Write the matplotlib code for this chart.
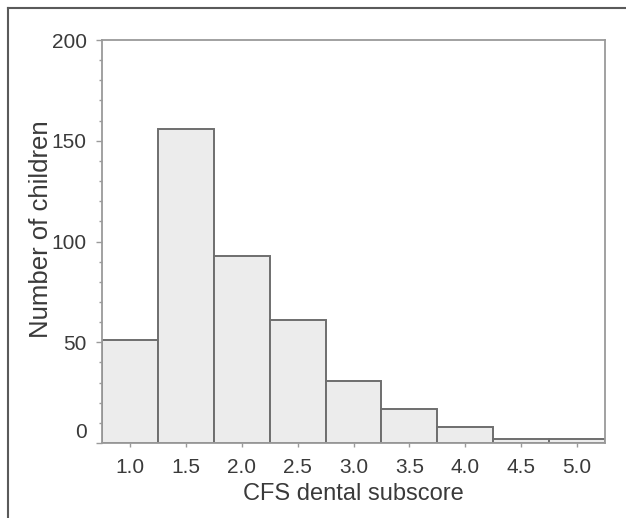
import matplotlib
matplotlib.use('Agg')
import matplotlib.pyplot as plt
import matplotlib.transforms as mtransforms
from matplotlib.lines import Line2D
from matplotlib.ticker import MultipleLocator

plt.rcParams['font.family'] = ['Liberation Sans', 'DejaVu Sans']

# CFS dental subscore histogram
scores = [1.0, 1.5, 2.0, 2.5, 3.0, 3.5, 4.0, 4.5, 5.0]
counts = [51, 156, 93, 61, 31, 17, 8, 2, 2]
tick_labels = ['1.0', '1.5', '2.0', '2.5', '3.0', '3.5', '4.0', '4.5', '5.0']
y_ticks = [0, 50, 100, 150, 200]

text_color = '#3a3a3a'
spine_color = '#9a9a9a'

fig = plt.figure(figsize=(6.26, 5.18), dpi=100)
ax = fig.add_axes([102 / 626, 1 - 443 / 518, 503 / 626, 403 / 518])

ax.bar(scores, counts, width=0.5, color='#ececec', edgecolor='#6e6e6e',
       linewidth=1.4)

ax.set_xlim(0.75, 5.25)
ax.set_ylim(0, 200)
ax.set_xticks(scores)
ax.set_xticklabels(tick_labels)
ax.set_yticks(y_ticks)
ax.yaxis.set_minor_locator(MultipleLocator(10))

for s in ax.spines.values():
    s.set_color(spine_color)
    s.set_linewidth(1.3)

ax.tick_params(axis='x', length=3, width=1, color=spine_color, pad=8,
               labelsize=15, labelcolor=text_color)
ax.tick_params(axis='y', which='major', length=4, width=1, color=spine_color,
               pad=7, labelsize=15, labelcolor=text_color)
ax.tick_params(axis='y', which='minor', length=2.5, width=1, color=spine_color)

# bottom label sits a bit above the axis line, as in the original
zero_label = ax.get_yticklabels()[0]
zero_label.set_transform(zero_label.get_transform() +
                         mtransforms.ScaledTranslation(0, 12 / 100, fig.dpi_scale_trans))

ax.set_xlabel('CFS dental subscore', fontsize=17, color=text_color, labelpad=4)
ax.set_ylabel('Number of children', fontsize=18.5, color=text_color)
ax.yaxis.set_label_coords(-0.097, 0.53)

# outer frame (top and left edges only visible)
fig.add_artist(Line2D([8 / 626, 1], [1 - 8 / 518, 1 - 8 / 518],
                      transform=fig.transFigure, color='#5a5a5a', linewidth=1.5))
fig.add_artist(Line2D([8 / 626, 8 / 626], [0, 1 - 8 / 518],
                      transform=fig.transFigure, color='#5a5a5a', linewidth=1.5))

fig.savefig('out.png', dpi=100)
